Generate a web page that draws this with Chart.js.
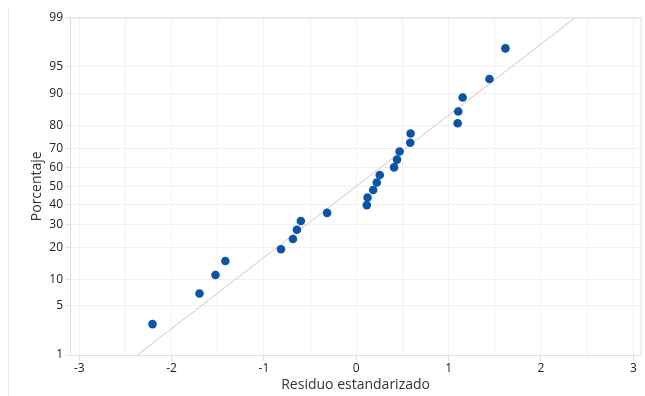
<!DOCTYPE html>
<html>
<head>
<meta charset="utf-8">
<script src="https://cdn.jsdelivr.net/npm/chart.js@4/dist/chart.umd.min.js"></script>
<style>
  html,body{margin:0;padding:0;background:#fff;}
  #wrap{position:relative;width:645px;height:396px;}
  #frame{position:absolute;left:8px;top:8px;width:1px;height:388px;background:#ececec;}
</style>
</head>
<body>
<div id="wrap">
  <canvas id="c" width="645" height="396"></canvas>
  <div id="frame"></div>
</div>
<script>
// Standardized residuals (x) and their plotting percentages (y)
const residuals = [-2.207, -1.698, -1.525, -1.418, -0.815, -0.686, -0.643, -0.600, -0.316,
  0.114, 0.122, 0.183, 0.222, 0.254, 0.409, 0.441, 0.469, 0.584, 0.588,
  1.098, 1.104, 1.152, 1.442, 1.615];
const percents = [2.87, 6.97, 11.07, 15.16, 19.26, 23.36, 27.46, 31.56, 35.66,
  39.75, 43.85, 47.95, 52.05, 56.15, 60.25, 64.34, 68.44, 72.54, 76.64,
  80.74, 84.84, 88.93, 93.03, 97.13];
// Fitted reference line endpoints
const refLineX = [-2.372, 2.373];
const refLinePct = [1, 99];
// Axis ticks
const yTickLabels = [1, 5, 10, 20, 30, 40, 50, 60, 70, 80, 90, 95, 99];
const xTickLabels = [-3, -2, -1, 0, 1, 2, 3];

function probit(p){
  const a=[-3.969683028665376e+01,2.209460984245205e+02,-2.759285104469687e+02,1.383577518672690e+02,-3.066479806614716e+01,2.506628277459239e+00];
  const b=[-5.447609879822406e+01,1.615858368580409e+02,-1.556989798598866e+02,6.680131188771972e+01,-1.328068155288572e+01];
  const c=[-7.784894002430293e-03,-3.223964580411365e-01,-2.400758277161838e+00,-2.549671875510582e+00,4.374664141464968e+00,2.938163982698783e+00];
  const d=[7.784695709041462e-03,3.224671290700398e-01,2.445134137142996e+00,3.754408661907416e+00];
  const pl=0.02425, ph=1-pl; let q,r;
  if(p<pl){q=Math.sqrt(-2*Math.log(p));return (((((c[0]*q+c[1])*q+c[2])*q+c[3])*q+c[4])*q+c[5])/((((d[0]*q+d[1])*q+d[2])*q+d[3])*q+1);}
  if(p<=ph){q=p-0.5;r=q*q;return (((((a[0]*r+a[1])*r+a[2])*r+a[3])*r+a[4])*r+a[5])*q/(((((b[0]*r+b[1])*r+b[2])*r+b[3])*r+b[4])*r+1);}
  q=Math.sqrt(-2*Math.log(1-p));return -(((((c[0]*q+c[1])*q+c[2])*q+c[3])*q+c[4])*q+c[5])/((((d[0]*q+d[1])*q+d[2])*q+d[3])*q+1);
}
const z = pct => probit(pct/100);
const yTickZ = yTickLabels.map(z);
const labelFor = v => { for (let i=0;i<yTickZ.length;i++) if (Math.abs(yTickZ[i]-v)<1e-6) return String(yTickLabels[i]); return ''; };

const pointData = residuals.map((x,i)=>({x:x, y:z(percents[i])}));
const lineData = refLineX.map((x,i)=>({x:x, y:z(refLinePct[i])}));

const frameBox = {
  id:'frameBox',
  afterDraw(chart){
    const {ctx, chartArea:a} = chart;
    ctx.save();
    ctx.strokeStyle='#dedede'; ctx.lineWidth=1;
    ctx.beginPath();
    ctx.moveTo(a.left, a.top+0.5); ctx.lineTo(a.right+0.5, a.top+0.5); ctx.lineTo(a.right+0.5, a.bottom);
    ctx.stroke();
    ctx.restore();
  }
};

const FONT = "'Open Sans', 'Noto Sans', sans-serif";
new Chart(document.getElementById('c'), {
  type:'scatter',
  data:{datasets:[
    {type:'line', data:lineData, borderColor:'#e5bcc4', borderWidth:1, pointRadius:0, fill:false, order:2},
    {data:pointData, backgroundColor:'#0a55a6', borderColor:'#0a55a6', pointRadius:4.3, borderWidth:0, order:1}
  ]},
  options:{
    responsive:false, animation:false,
    layout:{padding:{left:0, right:1.5, top:17.5, bottom:0}},
    plugins:{legend:{display:false}, tooltip:{enabled:false}},
    scales:{
      x:{
        type:'linear', min:-3.095, max:3.08,
        afterBuildTicks(s){ const t=[]; for(let v=-3; v<=3.0001; v+=0.5) t.push({value:Math.round(v*2)/2}); s.ticks=t; },
        afterFit(s){ s.height = 41; },
        ticks:{ callback:v=> Number.isInteger(v)? String(v) : '', font:{family:FONT, size:12}, color:'#222', padding:0, maxRotation:0, autoSkip:false },
        grid:{ color:'#f1f1f1', tickLength:6, tickColor:ctx=> (ctx.tick && Number.isInteger(ctx.tick.value)) ? '#e2e2e2' : 'rgba(0,0,0,0)' },
        border:{ color:'#dedede' },
        title:{ display:true, text:'Residuo estandarizado', font:{family:FONT, size:14}, color:'#333', padding:{top:0,bottom:3} }
      },
      y:{
        type:'linear', min:z(1), max:z(99),
        afterBuildTicks(s){ s.ticks = yTickZ.map(v=>({value:v})); },
        afterFit(s){ s.width = 70.5; },
        ticks:{ callback:v=>labelFor(v), font:{family:FONT, size:12}, color:'#222', padding:2.5, autoSkip:false },
        grid:{ color:'#f1f1f1', tickLength:5, tickColor:'#e2e2e2' },
        border:{ color:'#dedede' },
        title:{ display:true, text:'Porcentaje', font:{family:FONT, size:14}, color:'#333', padding:{top:29,bottom:0} }
      }
    }
  },
  plugins:[frameBox]
});
</script>
</body>
</html>
